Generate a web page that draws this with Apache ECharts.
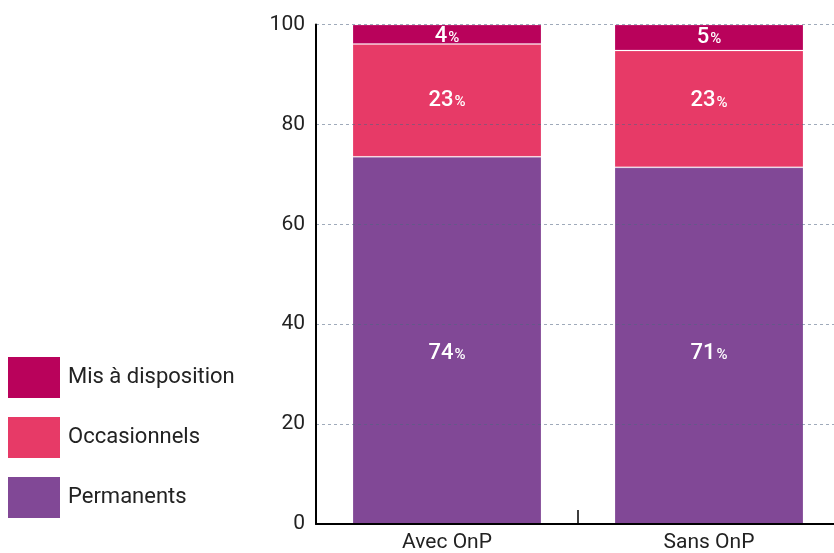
<!DOCTYPE html>
<html>
<head>
<meta charset="utf-8">
<script src="https://cdn.jsdelivr.net/npm/echarts@6/dist/echarts.min.js"></script>
<style>
  html, body { margin: 0; padding: 0; background: #fff; overflow: hidden; }
  /* the plot runs a few pixels past the right edge of the window */
  #chart { width: 840px; height: 553px; }
</style>
</head>
<body>
<div id="chart"></div>
<script>
// Répartition des effectifs (en %), avec et sans OnP
const categories = ['Avec OnP', 'Sans OnP'];
const permanents = [73.5, 71.4];
const occasionnels = [22.6, 23.4];
const misADisposition = [3.9, 5.2];
const yTicks = [0, 20, 40, 60, 80, 100];

const FONT = 'Roboto';
const colors = {
  perm: '#814896',
  occ: '#E73A67',
  mis: '#B9025B'
};

// vertical nudges (px) applied to each bar's value label
const labelShift = {
  perm: [13, 8],
  occ: [0, -8],
  mis: [2, 0]
};

const pctRich = {
  n: { color: '#fff', fontSize: 22, fontFamily: FONT, fontWeight: 500 },
  p: { color: '#fff', fontSize: 15, fontFamily: FONT, fontWeight: 500, padding: [4, 0, 0, 1] }
};

function barSeries(name, data, color, shifts) {
  return {
    name: name,
    type: 'bar',
    stack: 'total',
    barWidth: 189,
    z: 2,
    data: data.map((v, i) => ({
      value: v,
      label: { offset: [0, shifts[i]] }
    })),
    itemStyle: { color: color, borderColor: 'rgba(255,255,255,0.18)', borderWidth: 1 },
    label: {
      show: true,
      position: 'inside',
      formatter: p => '{n|' + Math.round(p.value) + '}{p|%}',
      rich: pctRich
    }
  };
}

const chart = echarts.init(document.getElementById('chart'), null, { renderer: 'canvas' });
chart.setOption({
  animation: false,
  textStyle: { fontFamily: FONT },
  grid: { left: 316, right: 0, top: 24.5, bottom: 29 },
  legend: {
    orient: 'vertical',
    left: 8,
    top: 357,
    padding: 0,
    itemWidth: 52,
    itemHeight: 41,
    itemGap: 19,
    icon: 'rect',
    itemStyle: { borderWidth: 0 },
    data: ['Mis à disposition', 'Occasionnels', 'Permanents'],
    textStyle: { fontSize: 22, color: '#222', fontFamily: FONT, padding: [0, 0, 0, 3] },
    selectedMode: false
  },
  xAxis: {
    type: 'category',
    data: categories,
    z: 3,
    axisLine: { lineStyle: { color: '#000', width: 2 } },
    axisTick: { show: true, inside: true, length: 14, lineStyle: { color: '#000', width: 1.5 } },
    axisLabel: { fontSize: 21, color: '#222', margin: 8, fontFamily: FONT }
  },
  yAxis: {
    type: 'value',
    min: yTicks[0],
    max: yTicks[yTicks.length - 1],
    interval: yTicks[1] - yTicks[0],
    z: 3,
    axisLine: { show: true, lineStyle: { color: '#000', width: 2 } },
    axisTick: { show: false },
    axisLabel: { fontSize: 21, color: '#222', margin: 11, fontFamily: FONT },
    splitLine: { show: true, lineStyle: { color: 'rgba(80,100,130,0.55)', type: [3, 3], width: 1 } }
  },
  series: [
    barSeries('Permanents', permanents, colors.perm, labelShift.perm),
    barSeries('Occasionnels', occasionnels, colors.occ, labelShift.occ),
    barSeries('Mis à disposition', misADisposition, colors.mis, labelShift.mis)
  ]
});
</script>
</body>
</html>
